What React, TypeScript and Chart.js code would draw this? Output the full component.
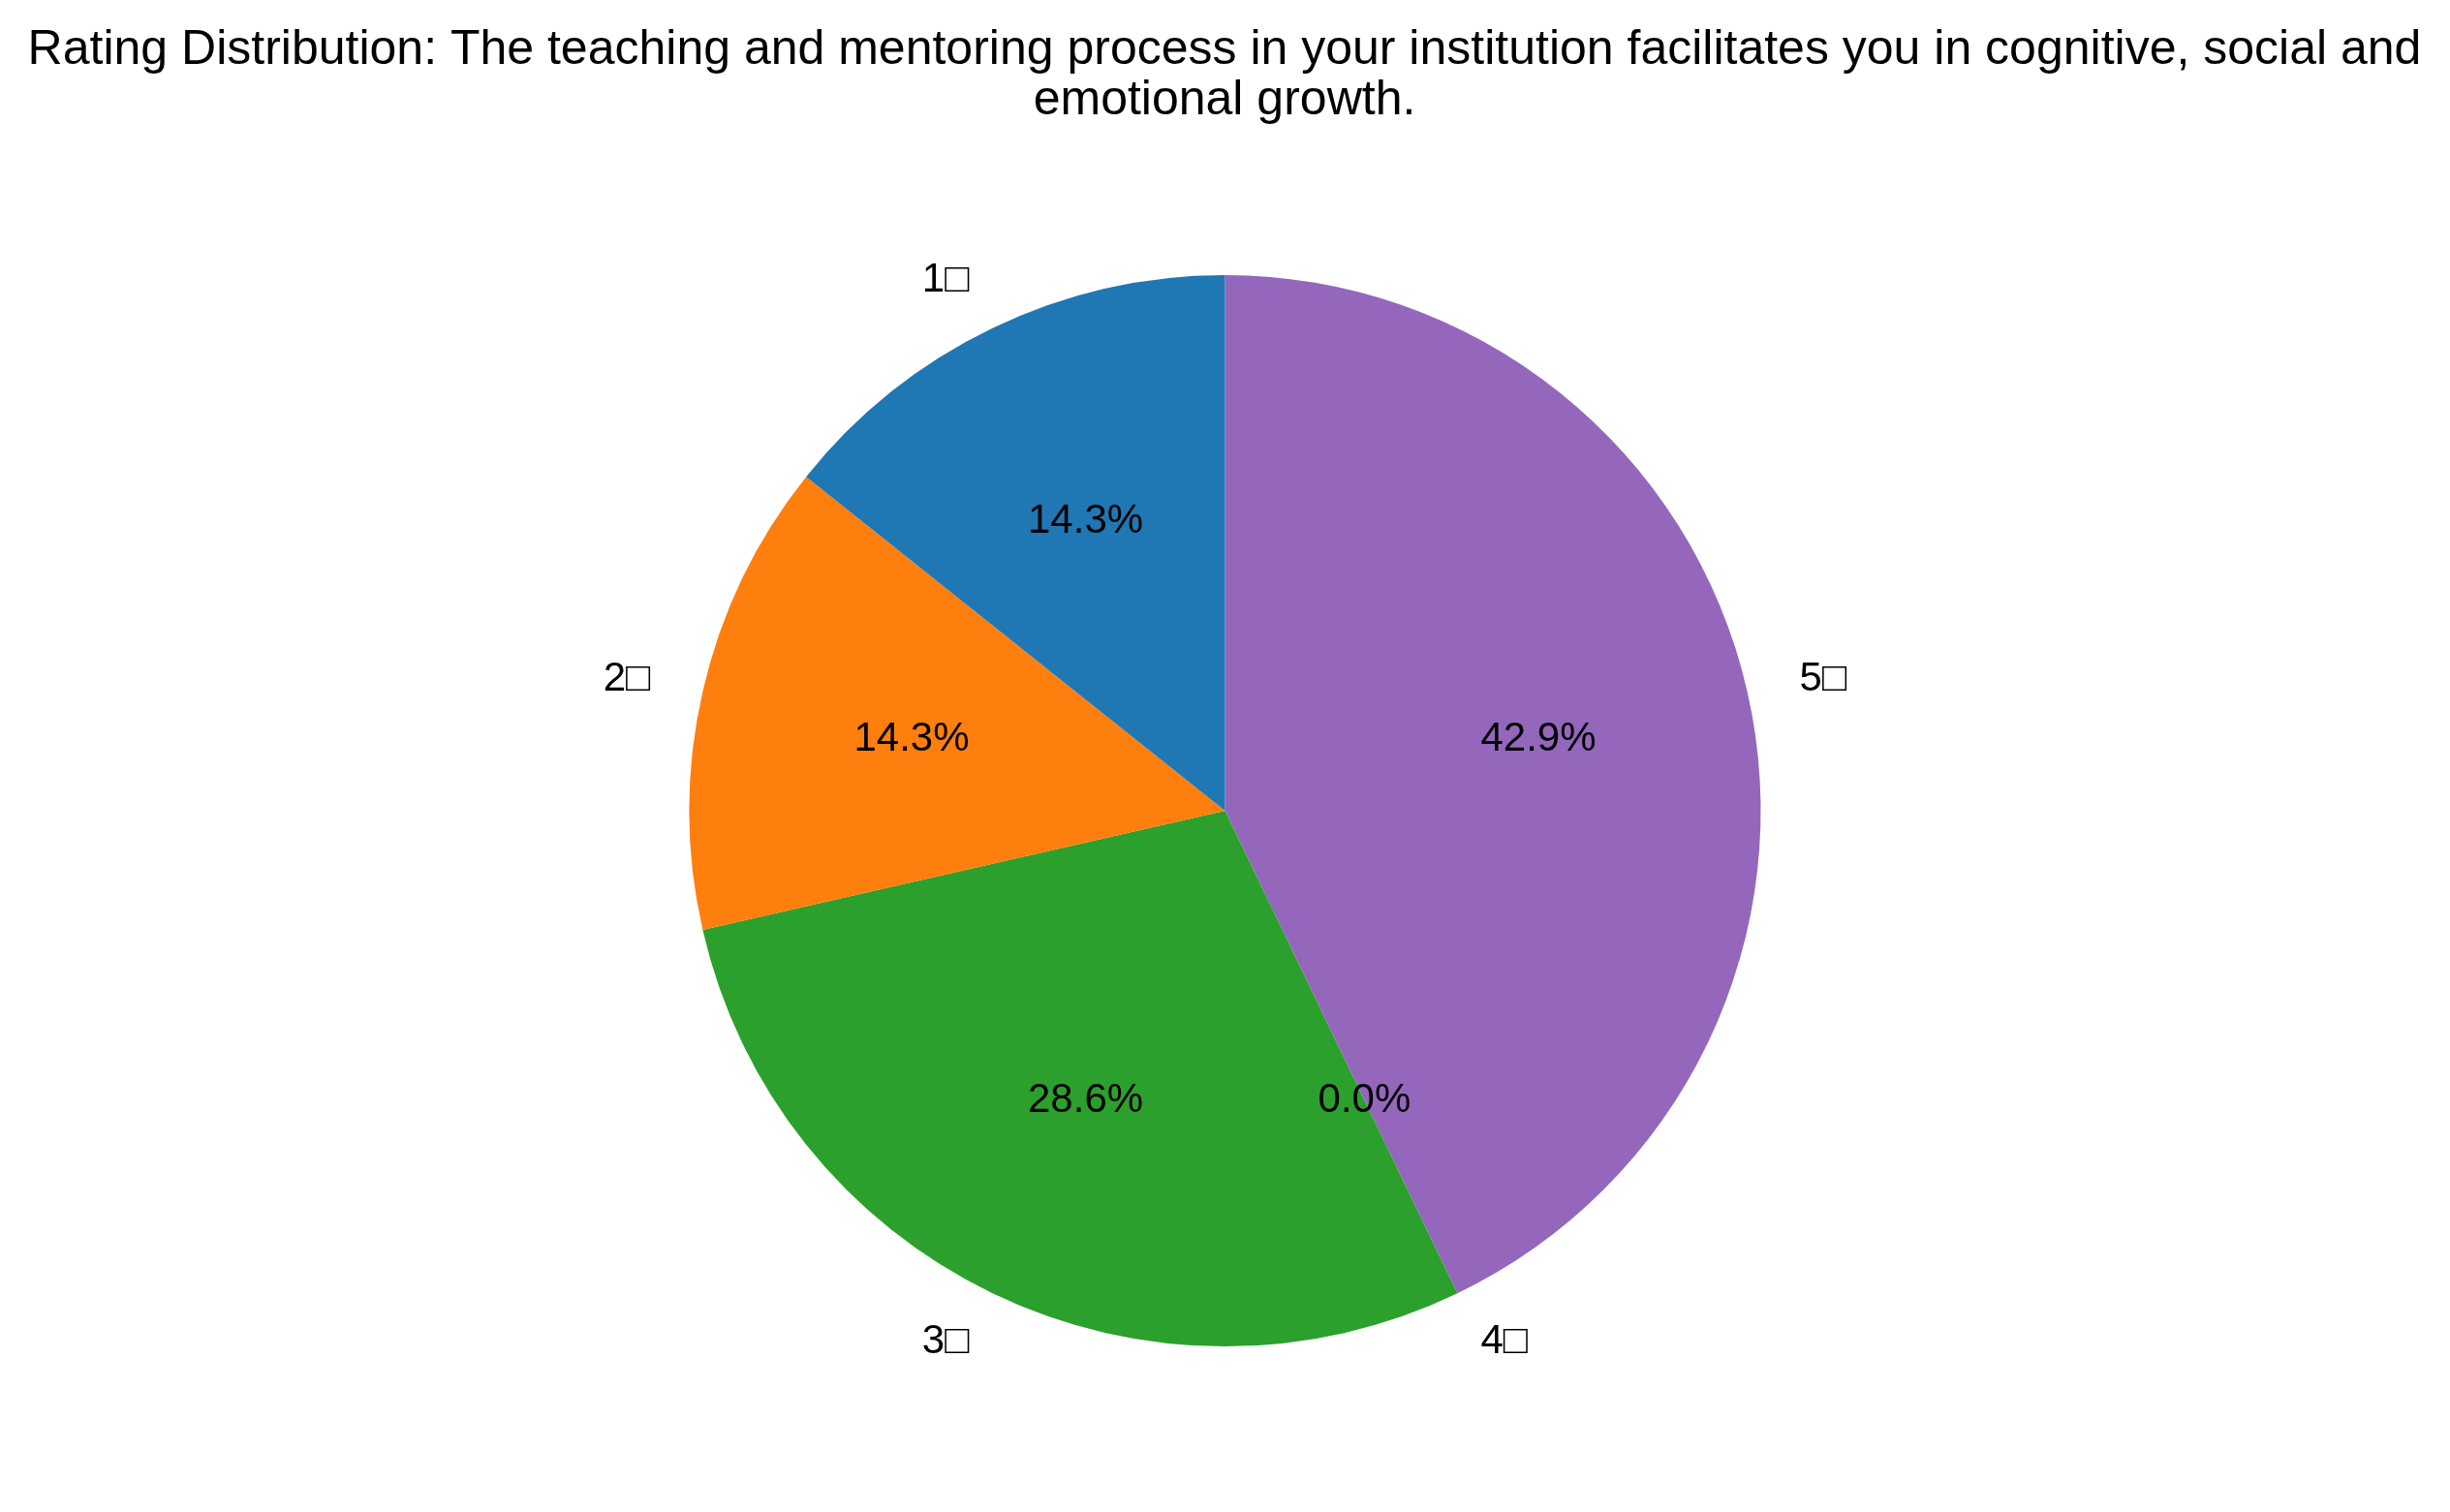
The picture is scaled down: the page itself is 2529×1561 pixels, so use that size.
import React, { useEffect, useRef } from "react";
import { Chart, registerables } from "chart.js";

Chart.register(...registerables);

const ratingLabels = ["1□", "2□", "3□", "4□", "5□"];
const ratingCounts = [1, 1, 2, 0, 3];
const ratingColors = ["#1f77b4", "#ff7f0e", "#2ca02c", "#d62728", "#9467bd"];
const titleLines = [
  "Rating Distribution: The teaching and mentoring process in your institution facilitates you in cognitive, social and",
  "emotional growth.",
];

const W = 2529;
const H = 1561;
const FONT = '"Liberation Sans", Arial, Helvetica, sans-serif';

const labelPlugin = {
  id: "pieLabels",
  afterDatasetsDraw(chart: any) {
    const ctx = chart.ctx;
    const meta = chart.getDatasetMeta(0);
    const data = chart.data.datasets[0].data as number[];
    const total = data.reduce((a: number, b: number) => a + b, 0);
    ctx.save();
    ctx.fillStyle = "#000";
    meta.data.forEach((arc: any, i: number) => {
      const { x, y, startAngle, endAngle, outerRadius } = arc.getProps(
        ["x", "y", "startAngle", "endAngle", "outerRadius"],
        true
      );
      const mid = (startAngle + endAngle) / 2;
      const c = Math.cos(mid);
      const s = Math.sin(mid);
      // outer label
      ctx.font = `42px ${FONT}`;
      ctx.textBaseline = "middle";
      ctx.textAlign = c > 0 ? "left" : "right";
      ctx.fillText(String(chart.data.labels[i]), x + c * outerRadius * 1.1, y + s * outerRadius * 1.1);
      // percentage
      ctx.textAlign = "center";
      const pct = ((data[i] / total) * 100).toFixed(1) + "%";
      ctx.fillText(pct, x + c * outerRadius * 0.6, y + s * outerRadius * 0.6);
    });
    // title
    ctx.font = `50px ${FONT}`;
    ctx.textAlign = "center";
    ctx.textBaseline = "alphabetic";
    titleLines.forEach((line, k) => {
      ctx.fillText(line, 1264, 66 + k * 52);
    });
    ctx.restore();
  },
};

export default function App() {
  const ref = useRef<HTMLCanvasElement | null>(null);
  useEffect(() => {
    if (!ref.current) return;
    const order = [4, 3, 2, 1, 0];
    const chart = new Chart(ref.current, {
      type: "pie",
      data: {
        labels: order.map((i) => ratingLabels[i]),
        datasets: [
          {
            data: order.map((i) => ratingCounts[i]),
            backgroundColor: order.map((i) => ratingColors[i]),
            borderWidth: 0,
          },
        ],
      },
      options: {
        responsive: false,
        animation: false,
        layout: { padding: { top: 284, bottom: 171, left: 700, right: 700 } },
        plugins: {
          legend: { display: false },
          title: { display: false },
          tooltip: { enabled: false },
        },
      },
      plugins: [labelPlugin],
    });
    return () => chart.destroy();
  }, []);
  return (
    <div style={{ position: "absolute", left: 0, top: 0, width: W, height: H, background: "#fff" }}>
      <canvas ref={ref} width={W} height={H} style={{ width: W, height: H }} />
    </div>
  );
}
